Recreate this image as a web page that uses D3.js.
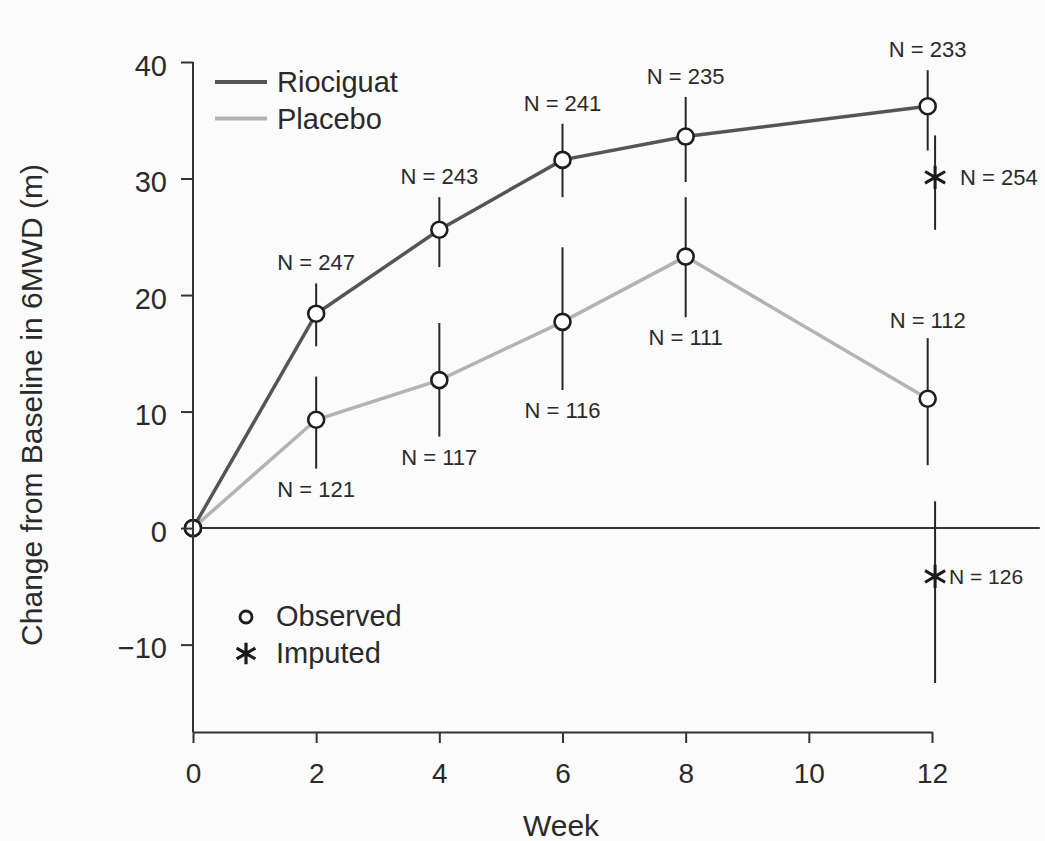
<!DOCTYPE html>
<html>
<head>
<meta charset="utf-8">
<script src="https://cdn.jsdelivr.net/npm/d3@7"></script>
<style>
  html, body { margin: 0; padding: 0; background: #fbfbfb; }
  svg { display: block; }
  text { font-family: "Liberation Sans", Arial, Helvetica, sans-serif; fill: #2a2a2a; }
</style>
</head>
<body>
<svg id="chart" width="1045" height="841"></svg>
<script>
// ---------------- data ----------------
const weeks = [0, 2, 4, 6, 8, 12];
const rioMean = [0, 18.4, 25.6, 31.6, 33.6, 36.2];
const rioLo   = [null, 15.6, 22.4, 28.4, 29.7, 32.4];
const rioHi   = [null, 21.0, 28.4, 34.7, 37.0, 39.3];
const rioN    = [null, 247, 243, 241, 235, 233];

const plaMean = [0, 9.3, 12.7, 17.7, 23.3, 11.1];
const plaLo   = [null, 5.1, 7.85, 11.85, 18.1, 5.4];
const plaHi   = [null, 13.0, 17.6, 24.1, 28.4, 16.3];
const plaN    = [null, 121, 117, 116, 111, 112];

const imputedWeek = 12;
const imputedRio = { mean: 30.1, lo: 25.6, hi: 33.7, n: 254 };
const imputedPla = { mean: -4.15, lo: -13.3, hi: 2.3, n: 126 };

const xTicks = [0, 2, 4, 6, 8, 10, 12];
const yTicks = [-10, 0, 10, 20, 30, 40];
const seriesNames = ["Riociguat", "Placebo"];
const markerNames = ["Observed", "Imputed"];
const xTitle = "Week";
const yTitle = "Change from Baseline in 6MWD (m)";

// ---------------- layout ----------------
const svg = d3.select("#chart");
const x = d3.scaleLinear().domain([0, 12]).range([193, 932]);
const y = d3.scaleLinear().domain([-17.5, 40]).range([732, 62]);
const dodgeObs = -0.07, dodgeImp = 0.05;
const xObs = (w) => x(w === 12 ? w + dodgeObs : w);

const rioColor = "#555555", plaColor = "#b3b3b3", ink = "#262626";

// zero reference line
svg.append("line")
  .attr("x1", x(0)).attr("x2", x(13.75))
  .attr("y1", y(0)).attr("y2", y(0))
  .attr("stroke", "#333").attr("stroke-width", 2);

// series lines
const mk = (means) => weeks.map((w, i) => ({ w, v: means[i] }));
const line = d3.line().x(d => xObs(d.w)).y(d => y(d.v));
svg.append("path").datum(mk(plaMean)).attr("d", line)
  .attr("fill", "none").attr("stroke", plaColor).attr("stroke-width", 3.5);
svg.append("path").datum(mk(rioMean)).attr("d", line)
  .attr("fill", "none").attr("stroke", rioColor).attr("stroke-width", 3.5);

// error bars
function errBars(lo, hi) {
  const d = weeks.map((w, i) => ({ w, lo: lo[i], hi: hi[i] })).filter(e => e.lo !== null);
  svg.append("g").selectAll("line").data(d).join("line")
    .attr("x1", e => xObs(e.w)).attr("x2", e => xObs(e.w))
    .attr("y1", e => y(e.lo)).attr("y2", e => y(e.hi))
    .attr("stroke", ink).attr("stroke-width", 2);
}
errBars(plaLo, plaHi);
errBars(rioLo, rioHi);
[imputedRio, imputedPla].forEach(m => {
  svg.append("line")
    .attr("x1", x(imputedWeek + dodgeImp)).attr("x2", x(imputedWeek + dodgeImp))
    .attr("y1", y(m.lo)).attr("y2", y(m.hi))
    .attr("stroke", ink).attr("stroke-width", 2);
});

// circles
function circles(means) {
  svg.append("g").selectAll("circle").data(mk(means)).join("circle")
    .attr("cx", d => xObs(d.w)).attr("cy", d => y(d.v)).attr("r", 8)
    .attr("fill", "#fff").attr("stroke", "#1e1e1e").attr("stroke-width", 2.6);
}
circles(plaMean);
circles(rioMean);

// asterisks (imputed)
const star = d3.symbol().type(d3.symbolAsterisk).size(380);
[imputedRio, imputedPla].forEach(m => {
  svg.append("path").attr("d", star())
    .attr("transform", `translate(${x(imputedWeek + dodgeImp)},${y(m.mean)})`)
    .attr("fill", "none").attr("stroke", "#1a1a1a").attr("stroke-width", 3);
});

// N labels
const nFont = 22;
weeks.forEach((w, i) => {
  if (rioN[i] !== null) {
    svg.append("text").attr("x", xObs(w)).attr("y", y(rioHi[i]) - 13)
      .attr("text-anchor", "middle").attr("font-size", nFont).text(`N = ${rioN[i]}`);
  }
  if (plaN[i] !== null) {
    const above = (i === weeks.length - 1);
    svg.append("text").attr("x", xObs(w))
      .attr("y", above ? y(plaHi[i]) - 10 : y(plaLo[i]) + 28)
      .attr("text-anchor", "middle").attr("font-size", nFont).text(`N = ${plaN[i]}`);
  }
});
svg.append("text").attr("x", x(imputedWeek) + 28).attr("y", y(imputedRio.mean) + 8)
  .attr("font-size", nFont).text(`N = ${imputedRio.n}`);
svg.append("text").attr("x", x(imputedWeek) + 17).attr("y", y(imputedPla.mean) + 8)
  .attr("font-size", 21).text(`N = ${imputedPla.n}`);

// axes
const yAxis = d3.axisLeft(y).tickValues(yTicks).tickSize(12).tickSizeOuter(0).tickPadding(14)
  .tickFormat(d => d < 0 ? "\u2212" + Math.abs(d) : d);
const gy = svg.append("g").attr("transform", `translate(${x(0)},0)`).call(yAxis);
gy.select(".domain").remove();
gy.append("line").attr("x1", 0).attr("x2", 0).attr("y1", y(40)).attr("y2", y(-17.5))
  .attr("stroke", "#333").attr("stroke-width", 2);
gy.selectAll(".tick line").attr("stroke", "#333").attr("stroke-width", 2);
gy.selectAll(".tick text").attr("font-size", 29).attr("dy", "0.45em")
  .attr("font-family", "Liberation Sans, Arial, sans-serif").attr("fill", "#2a2a2a");

const xAxis = d3.axisBottom(x).tickValues(xTicks).tickSize(11).tickSizeOuter(0).tickPadding(20);
const gx = svg.append("g").attr("transform", `translate(0,${y(-17.5)})`).call(xAxis);
gx.select(".domain").attr("stroke", "#333").attr("stroke-width", 2);
gx.selectAll(".tick line").attr("stroke", "#333").attr("stroke-width", 2);
gx.selectAll(".tick text").attr("font-size", 28)
  .attr("font-family", "Liberation Sans, Arial, sans-serif").attr("fill", "#2a2a2a");

// axis titles
svg.append("text").attr("x", 561).attr("y", 836).attr("text-anchor", "middle")
  .attr("font-size", 30).text(xTitle);
svg.append("text").attr("transform", "translate(42,405) rotate(-90)")
  .attr("text-anchor", "middle").attr("font-size", 30).text(yTitle);

// legend: series
const legColors = [rioColor, plaColor];
seriesNames.forEach((name, i) => {
  const ly = 82 + i * 36.5;
  svg.append("line").attr("x1", 215).attr("x2", 267).attr("y1", ly).attr("y2", ly)
    .attr("stroke", legColors[i]).attr("stroke-width", 4);
  svg.append("text").attr("x", 277).attr("y", ly + 10).attr("font-size", 29).text(name);
});

// legend: markers
markerNames.forEach((name, i) => {
  const ly = 617 + i * 36.5;
  if (i === 0) {
    svg.append("circle").attr("cx", 246).attr("cy", ly).attr("r", 6)
      .attr("fill", "none").attr("stroke", "#1e1e1e").attr("stroke-width", 2.8);
  } else {
    svg.append("path").attr("d", d3.symbol().type(d3.symbolAsterisk).size(330)())
      .attr("transform", `translate(246,${ly})`)
      .attr("fill", "none").attr("stroke", "#1a1a1a").attr("stroke-width", 3.2);
  }
  svg.append("text").attr("x", 276).attr("y", ly + 9).attr("font-size", 29).text(name);
});
</script>
</body>
</html>
